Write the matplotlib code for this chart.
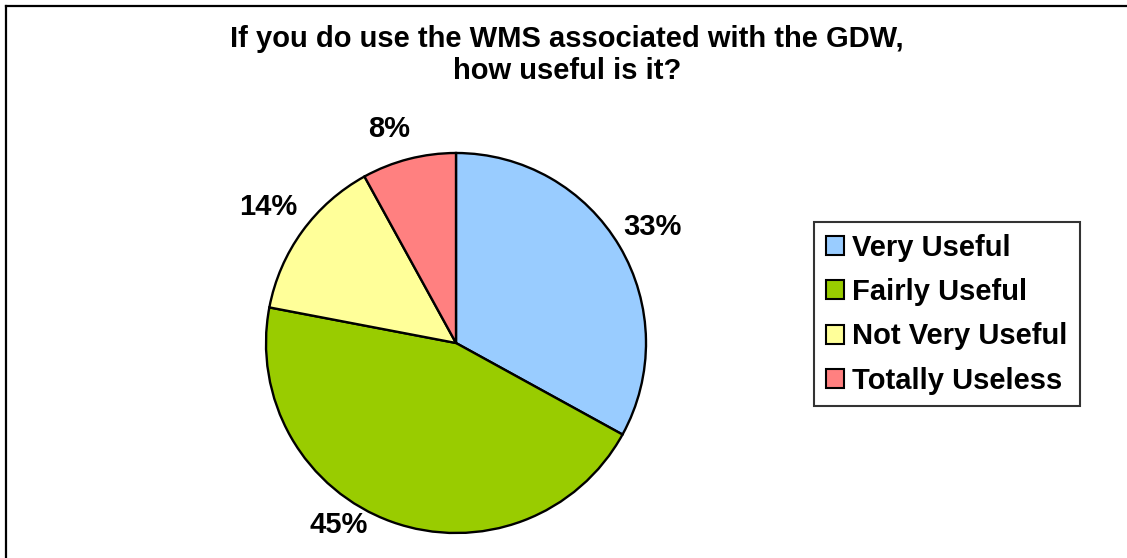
import matplotlib
matplotlib.use("Agg")
import matplotlib.pyplot as plt
from matplotlib.patches import Patch
from matplotlib.lines import Line2D
import numpy as np

plt.rcParams['font.family'] = ['Liberation Sans', 'DejaVu Sans']

categories = ["Very Useful", "Fairly Useful", "Not Very Useful", "Totally Useless"]
values = [33, 45, 14, 8]
colors = ["#99CCFF", "#99CC00", "#FFFF99", "#FF8080"]
title = "If you do use the WMS associated with the GDW,\nhow useful is it?"

W, H = 1127, 558
fig = plt.figure(figsize=(W / 100, H / 100), dpi=100)

# border (top and left visible)
fig.add_artist(Line2D([6 / W, 1], [1 - 5.5 / H, 1 - 5.5 / H], color="black", lw=1.6, transform=fig.transFigure))
fig.add_artist(Line2D([6 / W, 6 / W], [0, 1 - 5.5 / H], color="black", lw=1.6, transform=fig.transFigure))

cx, cy, r = 456, 343, 190
ax = fig.add_axes([(cx - r) / W, (H - cy - r) / H, 2 * r / W, 2 * r / H])
wedges, _ = ax.pie(values, colors=colors, startangle=90, counterclock=False,
                   wedgeprops=dict(edgecolor="black", linewidth=1.7), radius=1.0)
ax.set_xlim(-1, 1)
ax.set_ylim(-1, 1)
ax.set_aspect("auto")
ax.axis("off")

# percentage labels (Excel-style best-fit placement)
label_angle_shift = [0, -13, 0, 3]
label_dist = [1.2, 1.14, 1.22, 1.18]
total = sum(values)
for w, v, sh, d in zip(wedges, values, label_angle_shift, label_dist):
    ang = np.deg2rad((w.theta1 + w.theta2) / 2 + sh)
    ax.text(d * np.cos(ang), d * np.sin(ang), f"{round(100 * v / total)}%",
            ha="center", va="center", fontsize=21, fontweight="bold", clip_on=False)

fig.text(567 / W, 1 - 25 / H, title, ha="center", va="top", fontsize=21,
         fontweight="bold", linespacing=1.2)

handles = [Patch(facecolor=c, edgecolor="black", linewidth=1.5) for c in colors]
leg = fig.legend(handles, categories, loc="upper left",
                 bbox_to_anchor=(814 / W, 1 - 222 / H), borderaxespad=0,
                 prop=dict(weight="bold", size=21),
                 handlelength=0.62, handleheight=0.62, handletextpad=0.3,
                 labelspacing=0.56, borderpad=0.4, fancybox=False,
                 frameon=True, edgecolor="black")
leg.get_frame().set_linewidth(1.5)

fig.savefig("out.png", dpi=100)
